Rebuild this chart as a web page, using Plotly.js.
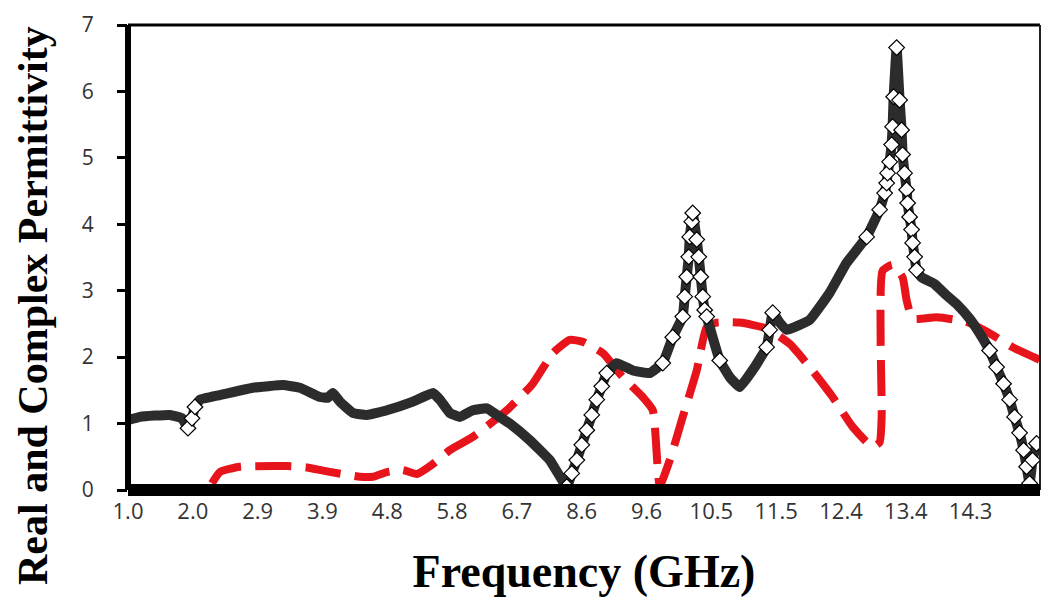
<!DOCTYPE html>
<html>
<head>
<meta charset="utf-8">
<script src="https://cdn.plot.ly/plotly-3.0.1.min.js"></script>
<style>html,body{margin:0;padding:0;background:#fff;}#chart{width:1044px;height:611px;}</style>
</head>
<body>
<div id="chart"></div>
<script>
// Category tick labels of the frequency axis (GHz); x values below are positions along that axis (0 = "1.0")
const tickLabels = ['1.0','2.0','2.9','3.9','4.8','5.8','6.7','8.6','9.6','10.5','11.5','12.4','13.4','14.3'];

// Real permittivity (black line with diamond markers)
const realX = [0.000,0.185,0.416,0.648,0.833,0.925,0.987,1.033,1.110,1.419,1.928,2.390,2.652,2.961,3.084,3.161,3.269,3.470,3.685,3.994,4.395,4.703,4.811,4.965,5.119,5.320,5.536,5.690,5.890,6.199,6.507,6.769,6.846,6.924,7.001,7.078,7.155,7.232,7.309,7.386,7.540,7.787,8.049,8.250,8.404,8.558,8.589,8.620,8.651,8.666,8.697,8.712,8.774,8.805,8.836,8.867,8.897,8.928,9.129,9.283,9.437,9.668,9.853,9.900,9.946,10.054,10.162,10.517,10.825,11.087,11.396,11.596,11.673,11.704,11.719,11.750,11.781,11.796,11.812,11.858,11.904,11.935,11.950,11.981,12.012,12.028,12.058,12.089,12.105,12.136,12.166,12.244,12.444,12.629,12.783,12.984,13.138,13.292,13.400,13.508,13.601,13.678,13.755,13.817,13.863,13.909,13.955,14.017];
const realY = [1.05,1.10,1.12,1.13,1.08,0.93,1.08,1.25,1.36,1.43,1.54,1.58,1.54,1.40,1.39,1.46,1.33,1.16,1.13,1.20,1.33,1.46,1.36,1.16,1.10,1.20,1.23,1.13,1.00,0.75,0.45,0.05,0.25,0.45,0.68,0.90,1.13,1.36,1.56,1.76,1.91,1.80,1.76,1.91,2.30,2.61,2.91,3.21,3.51,3.81,4.04,4.17,3.77,3.51,3.21,2.91,2.71,2.61,1.95,1.70,1.55,1.85,2.15,2.41,2.67,2.52,2.41,2.56,2.97,3.42,3.81,4.22,4.47,4.62,4.77,4.94,5.20,5.47,5.92,6.66,5.87,5.42,5.05,4.77,4.52,4.32,4.11,3.92,3.72,3.51,3.31,3.20,3.10,2.93,2.80,2.58,2.36,2.10,1.85,1.60,1.36,1.10,0.86,0.60,0.35,0.10,0.45,0.70];

// Complex (imaginary) permittivity (red dashed line)
const imagX = [1.295,1.419,1.727,2.452,2.760,3.069,3.577,3.778,3.994,4.241,4.456,4.688,4.965,5.320,5.844,6.245,6.554,6.816,7.016,7.325,7.633,7.941,8.096,8.204,8.358,8.558,8.774,8.928,9.083,9.437,9.853,10.208,10.517,10.871,11.180,11.488,11.596,11.627,11.642,11.796,11.950,12.012,12.105,12.475,12.938,13.292,13.647,14.063];
const imagY = [0.10,0.27,0.35,0.36,0.34,0.28,0.20,0.20,0.27,0.30,0.24,0.38,0.60,0.80,1.20,1.60,2.06,2.26,2.23,2.06,1.70,1.40,1.20,0.07,0.45,1.10,1.80,2.45,2.52,2.52,2.43,2.20,1.85,1.40,0.95,0.65,0.72,1.10,3.30,3.39,3.20,2.86,2.58,2.60,2.53,2.36,2.15,1.96];

const W = 1044, H = 611, M = {l:128, r:4, t:25, b:121};
const xRange = [0, 14.07], yRange = [0, 7];
const pxPerX = (W - M.l - M.r) / (xRange[1] - xRange[0]);
const pxPerY = (H - M.t - M.b) / (yRange[1] - yRange[0]);

// Where the curve is steep the overlapping diamonds separate and show white; elsewhere they merge into the dark band
const steep = realY.map((v, i) => {
  let s = 0;
  [i - 1, i + 1].forEach(j => {
    if (j >= 0 && j < realY.length) {
      const dx = Math.abs(realX[j] - realX[i]) * pxPerX;
      const dy = Math.abs(realY[j] - v) * pxPerY;
      s = Math.max(s, dy / Math.max(dx, 0.5));
    }
  });
  return s > 2;
});

const traces = [
  {
    x: imagX, y: imagY, type: 'scatter', mode: 'lines', name: 'Complex',
    line: {color: '#e8141c', width: 8, dash: '36px,14px', shape: 'spline', smoothing: 0.5},
    hoverinfo: 'x+y'
  },
  {
    x: realX, y: realY, type: 'scatter', mode: 'lines', name: 'Real',
    line: {color: '#2c2c2c', width: 10, shape: 'spline', smoothing: 0.3},
    hoverinfo: 'x+y'
  },
  {
    x: realX, y: realY, type: 'scatter', mode: 'markers', name: 'Real markers',
    marker: {symbol: 'diamond', size: steep.map(s => s ? 12 : 0), color: '#ffffff', opacity: 1, line: {color: '#000', width: 1.2}},
    hoverinfo: 'skip'
  }
];

const layout = {
  width: W, height: H,
  margin: M,
  paper_bgcolor: '#fff', plot_bgcolor: '#fff',
  showlegend: false,
  font: {family: 'Open Sans, sans-serif', color: '#333'},
  xaxis: {
    range: xRange, showgrid: false, zeroline: false, showline: false,
    tickmode: 'array', tickvals: tickLabels.map((_, i) => i), ticktext: tickLabels,
    ticks: '', tickfont: {size: 22, color: '#333', family: 'Open Sans, sans-serif'},
    ticklabelstandoff: 6,
    title: {text: 'Frequency (GHz)', font: {family: 'Liberation Serif, Times New Roman, serif', size: 46, color: '#000', weight: 'bold'}, standoff: 30}
  },
  yaxis: {
    range: yRange, showgrid: false, zeroline: false, showline: false,
    tickmode: 'array', tickvals: [0,1,2,3,4,5,6,7],
    ticks: 'outside', ticklen: 10, tickwidth: 3, tickcolor: '#000',
    tickfont: {size: 21, color: '#333', family: 'Open Sans, sans-serif'},
    ticklabelstandoff: 19
  },
  annotations: [{
    text: '<b>Real and Complex Permittivity</b>', textangle: -90,
    xref: 'paper', yref: 'paper', x: -0.104, y: 0.396, xanchor: 'center', yanchor: 'middle',
    showarrow: false,
    font: {family: 'Liberation Serif, Times New Roman, serif', size: 42, color: '#000'}
  }],
  shapes: [
    {type: 'line', xref: 'paper', yref: 'paper', x0: 0, x1: 1, y0: 1, y1: 1, line: {color: '#000', width: 3}},
    {type: 'line', xref: 'paper', yref: 'paper', x0: 1, x1: 1, y0: 0, y1: 1, line: {color: '#222', width: 2}},
    {type: 'line', xref: 'paper', yref: 'paper', x0: 0, x1: 0, y0: 0, y1: 1, line: {color: '#000', width: 6}},
    {type: 'line', xref: 'paper', yref: 'paper', x0: 0, x1: 1, y0: 0, y1: 0, line: {color: '#000', width: 12}}
  ]
};

Plotly.newPlot('chart', traces, layout, {staticPlot: true, displayModeBar: false});
</script>
</body>
</html>
